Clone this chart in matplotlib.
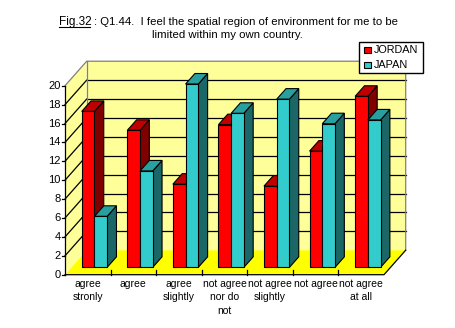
import numpy as np
import matplotlib.pyplot as plt
import matplotlib.transforms as mtransforms
from matplotlib.patches import Polygon, Rectangle

plt.rcParams['font.family'] = ['Liberation Sans', 'DejaVu Sans']

categories = ["agree\nstronly", "agree", "agree\nslightly", "not agree\nnor do\nnot",
              "not agree\nslightly", "not agree", "not agree\nat all"]
jordan = [16.5, 14.5, 8.8, 15.1, 8.6, 12.3, 18.1]
japan = [5.4, 10.2, 19.4, 16.3, 17.8, 15.2, 15.6]
yticks = np.arange(0, 21, 2)
series = [("JORDAN", jordan, "#FF0000", "#C00000", "#800000"),
          ("JAPAN", japan, "#33CCCC", "#29A0A0", "#1B6666")]

# oblique projection: one unit of depth shifts this much in category / value units
DX, DV = 0.476, 2.59
ZF, ZB = 0.30, 0.73        # front and back of the bars
BW, GAP = 0.279, 0.224     # bar width and left gap inside a category
VMAX = 20
n = len(categories)


def proj(x, v, z):
    return (x + z * DX, v + z * DV)


def face(pts, fc, ec="black", lw=0.8, zorder=2):
    ax.add_patch(Polygon([proj(*p) for p in pts], closed=True, facecolor=fc,
                         edgecolor=ec, lw=lw, zorder=zorder, joinstyle="miter"))


fig = plt.figure(figsize=(4.56, 3.28), dpi=100)
ax = fig.add_axes([0, 0, 1, 1])
ax.set_xlim(-1.4264, 8.580)
ax.set_ylim(-5.640, 29.069)
ax.axis("off")

# pixel transform for title and legend (origin top left)
px = mtransforms.Affine2D().scale(1 / 456, -1 / 328).translate(0, 1) + fig.transFigure

# walls and floor
face([(0, 0, 1), (n, 0, 1), (n, VMAX, 1), (0, VMAX, 1)], "#FFFF99", ec="none", zorder=0)
face([(0, 0, 0), (0, 0, 1), (0, VMAX, 1), (0, VMAX, 0)], "#FFFF99", ec="none", zorder=0)
face([(0, 0, 0), (n, 0, 0), (n, 0, 1), (0, 0, 1)], "#FFFF00", ec="none", zorder=0)

for v in yticks[1:-1]:
    ax.plot(*zip(proj(0, v, 1), proj(n, v, 1)), color="black", lw=0.9, zorder=1)
    ax.plot(*zip(proj(0, v, 0), proj(0, v, 1)), color="black", lw=0.9, zorder=1)

# grey outline of the back wall and top of side wall
edge = [proj(0, VMAX, 0), proj(0, VMAX, 1), proj(n, VMAX, 1), proj(n, 0, 1)]
ax.plot(*zip(*edge), color="#808080", lw=0.9, zorder=1)
ax.plot(*zip(proj(0, 0, 1), proj(0, VMAX, 1)), color="#808080", lw=0.9, zorder=1)

# floor front and right edges, value axis
ax.plot(*zip(proj(0, 0, 0), proj(n, 0, 0), proj(n, 0, 1)), color="black", lw=0.9, zorder=1)
ax.plot(*zip(proj(0, 0, 0), proj(0, VMAX, 0)), color="black", lw=0.9, zorder=3)
for i in range(1, n):
    ax.plot([i, i], [0, 0.45], color="black", lw=0.9, zorder=1)
for v in yticks:
    ax.plot([-0.06, 0], [v, v], color="black", lw=0.9, zorder=3)
    ax.annotate(str(v), xy=(0, v), xytext=(-3.0, 0), textcoords="offset points",
                ha="right", va="center", fontsize=8)

# bars, left to right so each face hides the side of the one before
for i in range(n):
    for k, (name, vals, c_front, c_top, c_side) in enumerate(series):
        x0 = i + GAP + k * BW
        x1 = x0 + BW
        v = vals[i]
        face([(x1, 0, ZF), (x1, 0, ZB), (x1, v, ZB), (x1, v, ZF)], c_side)
        face([(x0, v, ZF), (x1, v, ZF), (x1, v, ZB), (x0, v, ZB)], c_top)
        face([(x0, 0, ZF), (x1, 0, ZF), (x1, v, ZF), (x0, v, ZF)], c_front)

for i, lab in enumerate(categories):
    ax.annotate(lab, xy=(i + 0.5, 0), xytext=(0, -3), textcoords="offset points",
                ha="center", va="top", fontsize=7.5, linespacing=1.45)

# title with underlined figure number
fig.text(59 / 456, 1 - 21.7 / 328, "Fig.32", fontsize=8.5, ha="left", va="center")
fig.text(94 / 456, 1 - 21.7 / 328, ": Q1.44.  I feel the spatial region of environment for me to be",
         fontsize=8.2, ha="left", va="center")
fig.text(227 / 456, 1 - 35 / 328, "limited within my own country.", fontsize=8.2,
         ha="center", va="center")
fig.add_artist(plt.Line2D([59, 90], [26.5, 26.5], transform=px, color="black", lw=0.8))

# legend
fig.add_artist(Rectangle((359, 41.7), 64, 31.6, transform=px, facecolor="white",
                         edgecolor="black", lw=1.0))
for k, (name, vals, c_front, c_top, c_side) in enumerate(series):
    yc = 50 + 15 * k
    fig.add_artist(Rectangle((364.5, yc - 3.3), 6.5, 6.5, transform=px, facecolor=c_front,
                             edgecolor="black", lw=0.8))
    fig.text(374 / 456, 1 - yc / 328, name, fontsize=7.8, ha="left", va="center")

fig.savefig("out.png", dpi=100)
